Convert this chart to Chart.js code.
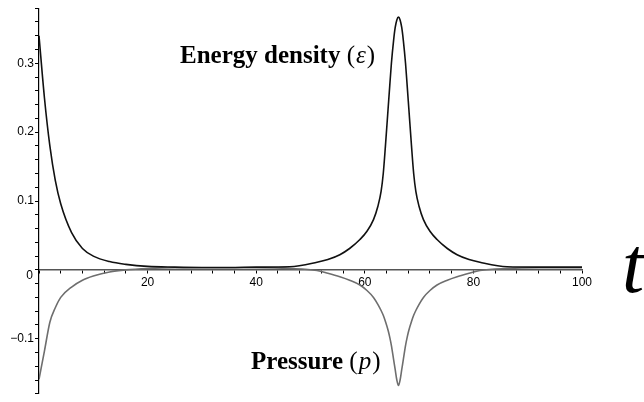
<!DOCTYPE html>
<html>
<head>
<meta charset="utf-8">
<script src="https://cdn.jsdelivr.net/npm/chart.js@4/dist/chart.umd.min.js"></script>
<style>
  html, body { margin: 0; padding: 0; background: #fff; }
  canvas { display: block; }
</style>
</head>
<body>
<canvas id="myChart" width="644" height="402"></canvas>
<script>
// time values (t) shared by both curves
const tValues = [0, 1, 2, 3, 4, 6, 8, 10, 13, 16, 20, 25, 30, 35, 40,
  46.2, 51.2, 53.2, 55.4, 57.2, 59.1, 60.4, 61.6, 62.4, 63.0, 63.4, 63.8, 64.3, 64.6, 64.9, 65.3, 65.6, 65.9,
  66.2,
  66.5, 66.8, 67.1, 67.5, 67.8, 68.1, 68.6, 69.0, 69.4, 70.0, 70.8, 72.0, 73.3, 75.2, 77.0, 79.2, 81.2, 86.2,
  92, 100];

// energy density (epsilon)
const energy = [0.34, 0.25, 0.18, 0.13, 0.096, 0.054, 0.031, 0.02, 0.012, 0.008, 0.005, 0.004, 0.0035, 0.0035, 0.004,
  0.0045, 0.011, 0.015, 0.022, 0.031, 0.044, 0.056, 0.073, 0.092, 0.114, 0.14, 0.18, 0.235, 0.268, 0.30, 0.333, 0.352, 0.363,
  0.367,
  0.363, 0.352, 0.333, 0.30, 0.268, 0.235, 0.18, 0.14, 0.114, 0.092, 0.073, 0.056, 0.044, 0.031, 0.022, 0.015, 0.011, 0.0045,
  0.004, 0.004];

// pressure (p)
const pressure = [-0.159, -0.118, -0.076, -0.055, -0.04, -0.025, -0.015, -0.009, -0.003, 0, 0.002, 0.003, 0.003, 0.003, 0.003,
  0.002, -0.001, -0.005, -0.01, -0.015, -0.022, -0.03, -0.04, -0.05, -0.059, -0.066, -0.075, -0.088, -0.098, -0.11, -0.13, -0.145, -0.16,
  -0.168,
  -0.16, -0.145, -0.13, -0.11, -0.098, -0.088, -0.075, -0.066, -0.059, -0.05, -0.04, -0.03, -0.022, -0.015, -0.01, -0.005, -0.001, 0.002,
  0.003, 0.003];

const xLabels = [20, 40, 60, 80, 100];
const yLabels = [-0.1, 0.1, 0.2, 0.3];

const toPoints = (ys) => tValues.map((t, i) => ({ x: t, y: ys[i] }));

// write a label made of bold word + "(" italic symbol ")"
function mathLabel(ctx, word, sym, x, y, size) {
  ctx.font = "bold " + size + "px 'Liberation Serif'";
  ctx.fillText(word + " ", x, y);
  x += ctx.measureText(word + " ").width;
  ctx.font = size + "px 'Liberation Serif'";
  ctx.fillText("(", x, y);
  x += ctx.measureText("(").width + 1;
  ctx.font = "italic " + size + "px 'Liberation Serif'";
  ctx.fillText(sym, x, y);
  x += ctx.measureText(sym).width + 1;
  ctx.font = size + "px 'Liberation Serif'";
  ctx.fillText(")", x, y);
}

const labelsPlugin = {
  id: "labels",
  afterDraw(chart) {
    const ctx = chart.ctx;
    const { x: xs, y: ys } = chart.scales;
    ctx.save();
    ctx.fillStyle = "#000";
    ctx.textBaseline = "alphabetic";

    mathLabel(ctx, "Energy density", "ε", 180, 63, 25);
    mathLabel(ctx, "Pressure", "p", 251, 369, 25);

    // origin label, sits a bit below the axis
    ctx.font = "12px 'Liberation Sans'";
    ctx.textAlign = "right";
    ctx.textBaseline = "middle";
    ctx.fillText("0", xs.left - 6, ys.getPixelForValue(0) + 6);

    // axis variable t
    ctx.textAlign = "left";
    ctx.textBaseline = "alphabetic";
    ctx.font = "italic 80px 'Liberation Serif'";
    ctx.fillText("t", 622, 292);
    ctx.restore();
  },
};

const ctx = document.getElementById("myChart").getContext("2d");
const chart = new Chart(ctx, {
  type: "line",
  data: {
    datasets: [
      {
        label: "Energy density",
        data: toPoints(energy),
        borderColor: "#111",
        borderWidth: 1.6,
        pointRadius: 0,
        cubicInterpolationMode: "monotone",
      },
      {
        label: "Pressure",
        data: toPoints(pressure),
        borderColor: "#6e6e6e",
        borderWidth: 1.6,
        pointRadius: 0,
        cubicInterpolationMode: "monotone",
      },
    ],
  },
  options: {
    responsive: false,
    devicePixelRatio: 1,
    animation: false,
    layout: { padding: { left: 0, right: 62, top: 5, bottom: 5 } },
    plugins: { legend: { display: false }, tooltip: { enabled: false } },
    scales: {
      x: {
        type: "linear",
        position: { y: 0 },
        min: 0,
        max: 100,
        afterFit: (s) => { s.height = 0; },
        grid: { drawOnChartArea: false, drawTicks: true, tickLength: 3, color: "#000" },
        border: { color: "#555", width: 1.5 },
        ticks: {
          stepSize: 4,
          autoSkip: false,
          maxRotation: 0,
          padding: 3,
          color: "#000",
          font: { family: "'Liberation Sans'", size: 12 },
          callback: (v) => (xLabels.includes(v) ? String(v) : ""),
        },
      },
      y: {
        type: "linear",
        min: -0.18,
        max: 0.38,
        afterFit: (s) => { s.width = 39; },
        grid: { drawOnChartArea: false, drawTicks: true, tickLength: 4, color: "#000" },
        border: { color: "#000", width: 1.2 },
        ticks: {
          stepSize: 0.02,
          autoSkip: false,
          padding: 1,
          color: "#000",
          font: { family: "'Liberation Sans'", size: 12 },
          callback: (v) => {
            const hit = yLabels.find((l) => Math.abs(l - v) < 1e-6);
            if (hit === undefined) return "";
            return (hit < 0 ? "\u2212" : "") + Math.abs(hit);
          },
        },
      },
    },
  },
  plugins: [labelsPlugin],
});
</script>
</body>
</html>
